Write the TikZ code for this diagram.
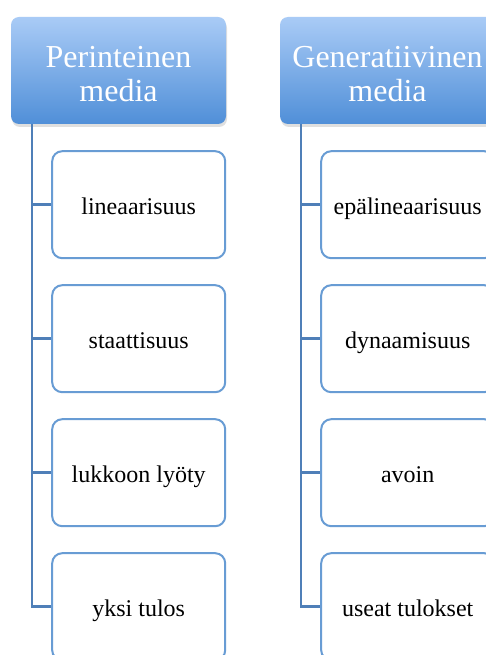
\documentclass[tikz,border=0pt]{standalone}
\usepackage{fontspec}
\setmainfont{Liberation Serif}
\definecolor{HeadTop}{RGB}{169,203,246}
\definecolor{HeadBottom}{RGB}{80,143,216}
\definecolor{SpineColor}{RGB}{79,127,184}
\definecolor{BoxColor}{RGB}{104,156,212}
\usetikzlibrary{positioning, calc, shadows}

\tikzset{
  headbox/.style={rounded corners=8pt, minimum width=215pt, minimum height=107pt,
    top color=HeadTop, bottom color=HeadBottom, draw=none, text=white,
    font=\fontsize{32}{34}\selectfont, align=center, text height=62pt, text depth=0pt,
    drop shadow={opacity=0.25, shadow xshift=1pt, shadow yshift=-3pt}},
  itembox/.style={draw=BoxColor, line width=2pt, rounded corners=10pt, fill=white,
    minimum width=173pt, minimum height=107pt, font=\fontsize{24}{26}\selectfont,
    text height=20pt, text depth=0pt},
  spine/.style={draw=SpineColor, line width=2.5pt}
}

\begin{document}
\begin{tikzpicture}[x=1pt, y=-1pt]
          \clip (0,0) rectangle (486,655);
          \fill[white] (0,0) rectangle (486,655);
          % column headers
          \node[headbox] (perint) at (118.5,70.5) {Perinteinen\\media};
          \node[headbox] (genera) at (387.5,70.5) {Generatiivinen\\media};
          % left column
          \node[itembox, below=26pt of perint.south east, anchor=north east] (p1) {lineaarisuus};
          \node[itembox, below=25pt of p1] (p2) {staattisuus};
          \node[itembox, below=25pt of p2] (p3) {lukkoon lyöty};
          \node[itembox, below=25pt of p3] (p4) {yksi tulos};
          % right column
          \node[itembox, below=26pt of genera.south east, anchor=north east] (g1) {epälineaarisuus};
          \node[itembox, below=25pt of g1] (g2) {dynaamisuus};
          \node[itembox, below=25pt of g2] (g3) {avoin};
          \node[itembox, below=25pt of g3] (g4) {useat tulokset};
          % connectors
          \coordinate (pspine) at ($(perint.south west)+(21pt,0pt)$);
          \coordinate (gspine) at ($(genera.south west)+(21pt,0pt)$);
          \draw[spine] (pspine) |- (p4.west);
          \draw[spine] (gspine) |- (g4.west);
          \foreach \i in {1,2,3}{
            \draw[spine] (p\i.west) -- (p\i.west -| pspine);
            \draw[spine] (g\i.west) -- (g\i.west -| gspine);
          }
        \end{tikzpicture}
\end{document}
